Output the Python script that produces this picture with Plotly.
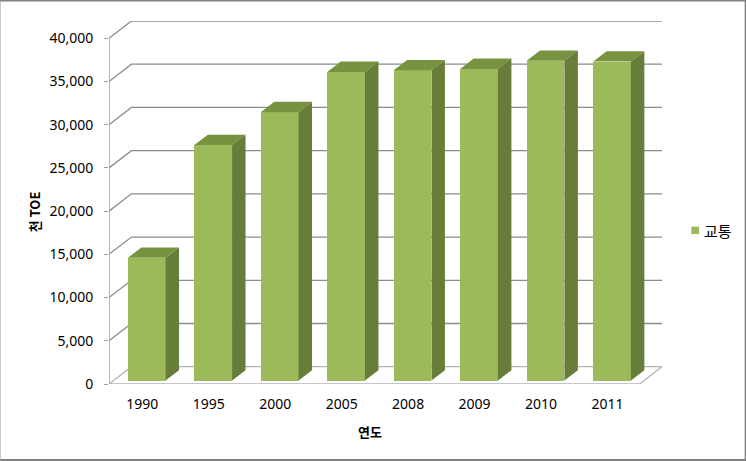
import plotly.graph_objects as go

years = ["1990", "1995", "2000", "2005", "2008", "2009", "2010", "2011"]
toe = [14200, 27250, 31050, 35700, 35900, 36050, 37000, 36900]
y_ticks = [0, 5000, 10000, 15000, 20000, 25000, 30000, 35000, 40000]
series_name = "교통"
y_title = "천 TOE"
x_title = "연도"

W, H = 746, 461
L, R, T, B = 109.3, 661.7, 20.7, 384
X_UNIT = 66.4
XMIN, XMAX = 0.5, 0.5 + (R - L) / X_UNIT
YMAX = 42000
DX, DY = 22.4 / X_UNIT, 2000
BAR_W = 37.7 / X_UNIT
FRONT, BACK = 0.2, 0.8

FACE, TOP_C, SIDE_C = "#9cba5a", "#78933f", "#687d39"
GRID, FLOOR = "#8c8c8c", "#b4b4b4"
FONT = "'Noto Sans', 'Noto Sans CJK KR', sans-serif"
KFONT = "'Noto Sans CJK KR', 'Noto Sans', sans-serif"

xs = list(range(1, len(years) + 1))
cx = [x + FRONT * DX for x in xs]
base = FRONT * DY

tops_x, tops_y, side_x, side_y = [], [], [], []
dx2 = (BACK - FRONT) * DX
dy2 = (BACK - FRONT) * DY
for c, v in zip(cx, toe):
    l, r = c - BAR_W / 2, c + BAR_W / 2
    t = v + base
    tops_x += [l, r, r + dx2, l + dx2, l, None]
    tops_y += [t, t, t + dy2, t + dy2, t, None]
    side_x += [r, r + dx2, r + dx2, r, r, None]
    side_y += [base, base + dy2, t + dy2, t, base, None]

fig = go.Figure()
fig.add_trace(go.Bar(x=cx, y=toe, base=base, width=BAR_W, name=series_name,
                     marker=dict(color=FACE, line=dict(width=0)), showlegend=False))
fig.add_trace(go.Scatter(x=tops_x, y=tops_y, mode="lines", fill="toself", fillcolor=TOP_C,
                         line=dict(width=0, color=TOP_C), showlegend=False, hoverinfo="skip"))
fig.add_trace(go.Scatter(x=side_x, y=side_y, mode="lines", fill="toself", fillcolor=SIDE_C,
                         line=dict(width=0, color=SIDE_C), showlegend=False, hoverinfo="skip"))

shapes = []
front_r = XMAX - DX
for v in y_ticks[1:]:
    shapes.append(dict(type="path", layer="below", xref="x", yref="y",
                       path=f"M{XMIN},{v} L{XMIN + DX},{v + DY} L{XMAX},{v + DY}",
                       line=dict(color=GRID, width=1.3)))
shapes.append(dict(type="path", layer="below", xref="x", yref="y",
                   path=f"M{XMIN},0 L{XMIN + DX},{DY} L{XMAX},{DY} L{front_r},0 Z",
                   line=dict(color=FLOOR, width=1.3)))
shapes.append(dict(type="line", layer="below", xref="x", yref="y",
                   x0=XMIN, x1=XMIN, y0=0, y1=y_ticks[-1], line=dict(color="#a0a0a0", width=1.5)))

PW, PH = R - L, B - T
def px(x): return (x - L) / PW
def py(y): return (B - y) / PH

for x0, y0, x1, y1, col, wid in [
    (0, 0.5, 746, 0.5, "#808080", 1.5),
    (745, 0, 745, 461, "#808080", 1.5),
    (0, 460, 746, 460, "#808080", 2),
    (0.5, 0, 0.5, 461, "#a8a8a8", 1),
]:
    shapes.append(dict(type="line", xref="paper", yref="paper", x0=px(x0), x1=px(x1),
                       y0=py(y0), y1=py(y1), line=dict(color=col, width=wid)))
shapes.append(dict(type="rect", xref="paper", yref="paper",
                   x0=px(691), x1=px(698.7), y0=py(234), y1=py(226.5),
                   line=dict(width=0), fillcolor=FACE))

annotations = [
    dict(text=series_name, xref="paper", yref="paper", x=px(701.5), y=py(230.5), xanchor="left",
         yanchor="middle", showarrow=False, font=dict(family=KFONT, size=15, color="#000")),
    dict(text=f"<b>{x_title}</b>", xref="paper", yref="paper", x=px(370.5), y=py(431.5), xanchor="center",
         yanchor="middle", showarrow=False, font=dict(family=KFONT, size=13, color="#000")),
    dict(text=f"<b>{y_title}</b>", xref="paper", yref="paper", x=px(35), y=py(211.5), xanchor="center",
         yanchor="middle", showarrow=False, textangle=-90, font=dict(family=KFONT, size=13, color="#000")),
]

fig.update_layout(
    width=W, height=H, autosize=False,
    margin=dict(l=L, r=W - R, t=T, b=H - B, pad=0),
    paper_bgcolor="white", plot_bgcolor="white",
    showlegend=False, bargap=0, shapes=shapes, annotations=annotations,
    xaxis=dict(range=[XMIN, XMAX], tickmode="array", tickvals=xs, ticktext=years,
               showgrid=False, zeroline=False, showline=False, ticks="", ticklabelstandoff=10,
               tickfont=dict(family=FONT, size=14, color="#000")),
    yaxis=dict(range=[0, YMAX], tickmode="array", tickvals=y_ticks, tickformat=",d",
               showgrid=False, zeroline=False, showline=False, ticks="outside", ticklen=4,
               tickcolor="#a0a0a0", tickwidth=1.3, ticklabelstandoff=8,
               tickfont=dict(family=FONT, size=14, color="#000")),
)
fig.write_html("out.html", config=dict(displayModeBar=False),
               post_script="document.body.style.margin='0';document.documentElement.style.overflow='hidden';")
